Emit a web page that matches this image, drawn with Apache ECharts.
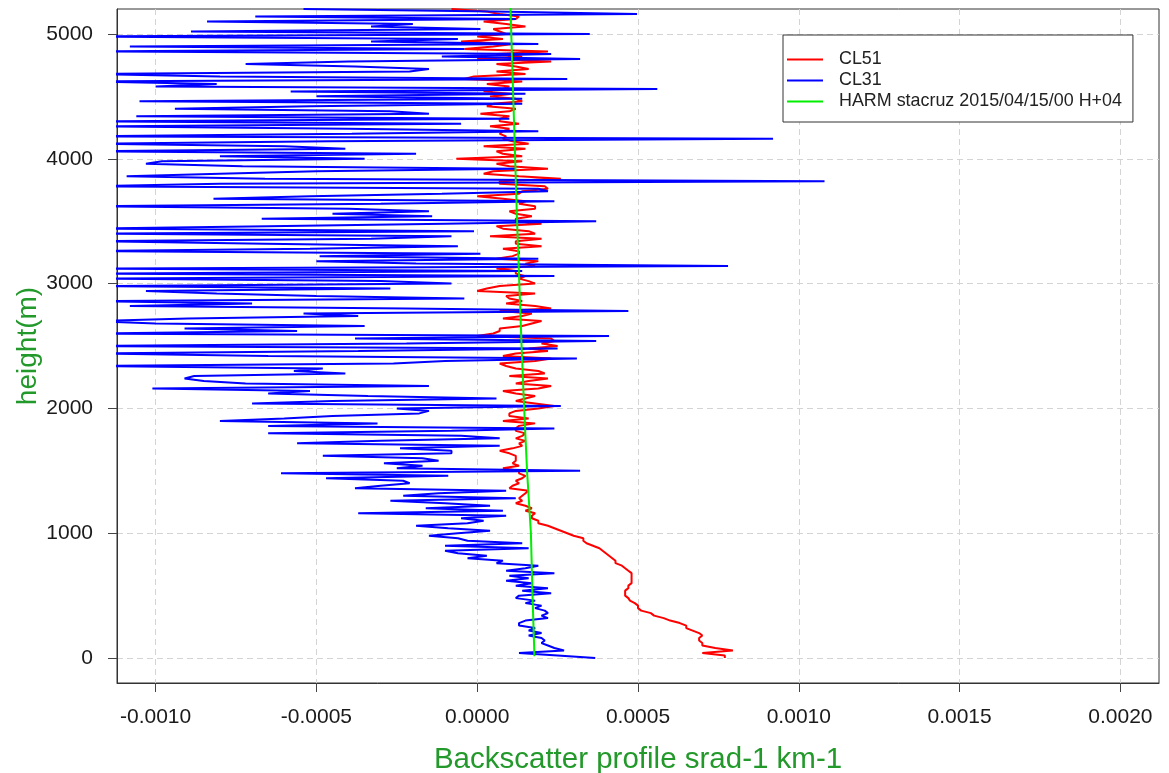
<!DOCTYPE html>
<html>
<head>
<meta charset="utf-8">
<script src="https://cdn.jsdelivr.net/npm/echarts@6/dist/echarts.min.js"></script>
<style>
  html, body { margin: 0; padding: 0; background: #ffffff; }
  #chart { width: 1169px; height: 773px; }
</style>
</head>
<body>
<div id="chart"></div>
<script>
// Backscatter profiles in units of 1e-4 srad-1 km-1.
// Ceilometer gates are listed from the top gate (5200 m) down to the ground, every 20 m.
const UNIT = 1e-4;
const gateTop = 5200;
const gateStep = 20;

// Vaisala CL51
const cl51 = [
  -0.8, 0.3, 0.7, 1.3, 1.2, 0.2, 0.9, 1.5, 0.5, 0.7,
  0.9, 0.0, 0.8, -0.5, 1.1, 0.5, -0.4, 2.2, 0.6, 1.4,
  0.0, 2.3, 0.6, 1.2, 1.6, 0.6, 1.5, -0.1, -0.4, 1.4,
  0.3, 1.0, 0.8, 0.2, 1.1, 0.4, 1.2, 1.4, 0.5, 0.3,
  1.2, 1.0, 0.1, 1.0, 0.7, 0.7,
  1.3, 0.4, 1.0, 0.8, 0.7, 0.9, 0.8, 1.1, 1.6, 0.2,
  1.5, 0.6, 0.8, 1.4, -0.65, 1.4, 0.6, 1.0, 2.2, 0.5,
  0.2, 1.3, 2.6, 0.7, 0.7, 2.1, 2.2, 1.4, 1.3, 0.0,
  0.8, 1.5, 1.3, 1.8, 1.8, 1.0, 1.2, 1.7, 1.2, 1.2,
  2.0, 0.6, 0.8, 1.6, 1.8,
  0.4, 2.0, 1.2, 1.2, 2.0, 0.8, 1.3, 1.3, 1.1, 0.6,
  1.9, 1.5, 1.8, 0.6, 1.2, 1.2, 1.5, 1.3, 1.6, 1.8,
  0.7, 0.3, 0.0, 1.8, 0.9, 1.0, 1.4, 0.9, 1.8, 2.3,
  0.7, 1.7, 1.4, 0.8, 2.0, 1.7, 1.4, 0.7, 0.7, 0.5,
  0.0, 2.3, 2.4, 2.0, 2.5,
  1.6, 2.2, 1.2, 0.8, 2.3, 1.8, 0.7, 0.9, 1.2, 1.9,
  2.1, 1.0, 2.2, 1.6, 1.2, 2.3, 1.9, 0.8, 1.2, 1.8,
  1.5, 1.2, 1.8, 2.4, 1.9, 1.2, 1.0, 1.0, 1.6, 0.8,
  1.8, 1.3, 1.2, 1.2, 1.5, 1.4, 1.2, 1.5, 1.3, 1.4,
  1.1, 0.7, 1.0, 1.2, 1.2,
  1.2, 1.1, 1.3, 0.8, 1.3, 1.3, 1.5, 1.4, 1.2, 1.3,
  1.1, 1.0, 1.6, 1.5, 1.4, 1.3, 1.4, 1.2, 1.5, 1.7,
  1.5, 1.8, 1.7, 1.7, 1.9, 1.9, 2.2, 2.4, 2.6, 2.8,
  3.0, 3.3, 3.3, 3.4, 3.6, 3.8, 3.9, 4.0, 4.1, 4.2,
  4.3, 4.3, 4.5, 4.6, 4.7,
  4.8, 4.8, 4.8, 4.8, 4.8, 4.7, 4.7, 4.6, 4.6, 4.6,
  4.7, 4.75, 4.9, 5.0, 5.0, 5.1, 5.4, 5.5, 5.8, 6.0,
  6.3, 6.5, 6.5, 6.7, 6.9, 7.0, 6.9, 6.9, 7.0, 7.0,
  7.4, 7.95, 7.0, 7.7, 7.7
];

// Vaisala CL31
const cl31 = [
  -5.4, 0.5, 4.97, -6.9, 1.2, -8.4, -2.0, -3.3, 0.1, -8.9,
  3.5, -12, -0.6, -3.3, 1.9, -10.8, -0.4, -12, 2.3, -1.1,
  3.2, -4.0, -7.2, -3.8, -1.5, -2.1, -12, -8, 2.8, -12,
  -8.1, -10, 5.6, -5.8, 1.5, -5, 1.4, -10.5, 1.4, -5.2,
  -9.4, -2.7, -1.5, -10.6, 1.0, -12,
  -0.5, -12, -4, 1.9, -3.9, -12, 9.2, -4.6, -12, -6,
  -4.1, -12, -1.9, -8, -3.5, -9.8, -10.3, -7.3, 1.2, -5,
  -8, -10.9, -6.6, 10.8, -8, -12, 1.9, 2.2, -1.1, -5.2,
  -8.2, 2.4, -3, -12, -4, -1.5, -4.5, -1.4, -6.7, 3.7,
  -1, -6.5, -12, -0.1, -12,
  -0.8, -3.3, -12, -6.6, -0.6, -5.2, -12, 0.1, -4.9, 1.9,
  -5.0, -1.9, 7.8, -12, 1.4, -12, 2.4, -12, -3, -0.8,
  -12, -2.7, -10.3, -8.1, -5, -0.4, -12, -7.0, -10.8, -2.2,
  4.7, -5.4, -3.7, -9.0, -12, -10, -3.5, -9.1, -5.6, -12,
  4.1, -3.8, 3.7, -2.2, -12,
  2.5, -3.7, -12, -6.5, 3.1, -1.0, -2.6, -12, -4.8, -5.7,
  -4.1, -8.8, -9.1, -8.5, -7.2, -1.5, -10.1, -5.2, -6.5, -3.4,
  0.6, -4.5, -7.0, 2.6, -2.5, -1.5, -1.8, -4.5, -6, -8.0,
  -3.1, -6.5, 2.4, -0.8, -6.5, -0.5, 0.7, -3, -5.6, 0.7,
  -2.4, -0.8, -0.8, -4.8, -1.7,
  -1.2, -2.9, -1.7, -2.5, 3.2, -6.1, -0.9, -4.7, -2.3, -2.1,
  -3.0, -3.8, 0.9, -1.2, -2.3, 1.2, -2.7, -1.0, 0.4, -1.6,
  0.8, -3.7, 0.9, -0.5, 0.2, -0.3, -1.9, -0.9, 0.4, -0.6,
  -1.5, -0.6, -0.3, 1.4, -1.0, 1.6, -1.0, -0.6, 0.3, -0.3,
  0.8, 0.6, 1.9, 1.5, 0.9,
  2.4, 1.0, 1.6, 0.9, 1.7, 1.2, 2.2, 1.4, 2.3, 1.3,
  1.2, 1.8, 1.5, 2.0, 1.8, 2.1, 2.2, 2.0, 2.2, 1.5,
  1.3, 1.3, 1.8, 1.6, 2.0, 1.6, 2.0, 2.1, 2.0, 2.2,
  2.4, 2.7, 1.3, 2.5, 3.67
];

// HARMONIE model profile at Santa Cruz
const harmHeights = [15, 500, 1000, 1500, 2000, 2500, 3000, 3500, 4000, 4500, 5000, 5250];
const harmValues  = [1.78, 1.72, 1.67, 1.55, 1.46, 1.38, 1.31, 1.24, 1.18, 1.12, 1.06, 1.03];

const seriesNames = ['CL51', 'CL31', 'HARM stacruz 2015/04/15/00 H+04'];
const xTicks = [-0.001, -0.0005, 0, 0.0005, 0.001, 0.0015, 0.002];
const yTicks = [0, 1000, 2000, 3000, 4000, 5000];

const gates = values => values.map((v, i) => [v * UNIT, gateTop - i * gateStep]);
const harm = harmValues.map((v, i) => [v * UNIT, harmHeights[i]]);

const FONT = "'Liberation Sans', Arial, Helvetica, sans-serif";
const TITLE_GREEN = '#22992a';
const grid = { lineStyle: { color: '#d4d4d4', type: [6, 4], width: 1 } };

const chart = echarts.init(document.getElementById('chart'), null, { renderer: 'canvas' });
chart.setOption({
  animation: false,
  backgroundColor: '#ffffff',
  textStyle: { fontFamily: FONT },
  grid: {
    left: 117, right: 10, top: 9, bottom: 90,
    containLabel: false, outerBoundsMode: 'none',
    show: true, borderColor: '#333333', borderWidth: 1, backgroundColor: 'transparent'
  },
  legend: {
    data: seriesNames,
    orient: 'vertical',
    left: 783, top: 35,
    padding: [14, 11, 10, 4],
    itemGap: 0, itemWidth: 36, itemHeight: 2,
    icon: 'rect',
    backgroundColor: '#ffffff', borderColor: '#333333', borderWidth: 1,
    textStyle: { fontSize: 17.9, color: '#222222', lineHeight: 21, fontFamily: FONT, padding: [0, 0, 0, 11] }
  },
  xAxis: {
    type: 'value',
    min: -0.00112, max: 0.00212,
    name: 'Backscatter profile srad-1 km-1',
    nameLocation: 'middle', nameGap: 62, nameMoveOverlap: false,
    nameTextStyle: { fontSize: 29.5, color: TITLE_GREEN, fontFamily: FONT },
    axisLine: { show: true, onZero: false, lineStyle: { color: '#333333', width: 1 } },
    axisTick: { show: true, inside: false, length: 9, customValues: xTicks, lineStyle: { color: '#444444' } },
    axisLabel: {
      show: true, margin: 24, fontSize: 21, color: '#1a1a1a', fontFamily: FONT,
      customValues: xTicks,
      formatter: v => v.toFixed(4)
    },
    splitLine: { show: true, ...grid }
  },
  yAxis: {
    type: 'value',
    min: -200, max: 5200,
    name: 'height(m)',
    nameLocation: 'middle', nameGap: 75, nameMoveOverlap: false,
    nameTextStyle: { fontSize: 28, color: TITLE_GREEN, fontFamily: FONT },
    axisLine: { show: true, onZero: false, lineStyle: { color: '#333333', width: 1 } },
    axisTick: { show: true, inside: false, length: 9, customValues: yTicks, lineStyle: { color: '#444444' } },
    axisLabel: {
      show: true, margin: 24, fontSize: 21, color: '#1a1a1a', fontFamily: FONT,
      customValues: yTicks,
      formatter: v => String(Math.round(v))
    },
    splitLine: { show: true, ...grid }
  },
  series: [
    {
      name: seriesNames[0], type: 'line', data: gates(cl51),
      symbol: 'none', showSymbol: false, clip: true,
      lineStyle: { color: '#ff0000', width: 2 }, itemStyle: { color: '#ff0000' }, z: 2
    },
    {
      name: seriesNames[1], type: 'line', data: gates(cl31),
      symbol: 'none', showSymbol: false, clip: true,
      lineStyle: { color: '#0000ff', width: 2 }, itemStyle: { color: '#0000ff' }, z: 3
    },
    {
      name: seriesNames[2], type: 'line', data: harm,
      symbol: 'none', showSymbol: false, clip: true,
      lineStyle: { color: '#00ee00', width: 2 }, itemStyle: { color: '#00ee00' }, z: 4
    }
  ]
});
</script>
</body>
</html>
